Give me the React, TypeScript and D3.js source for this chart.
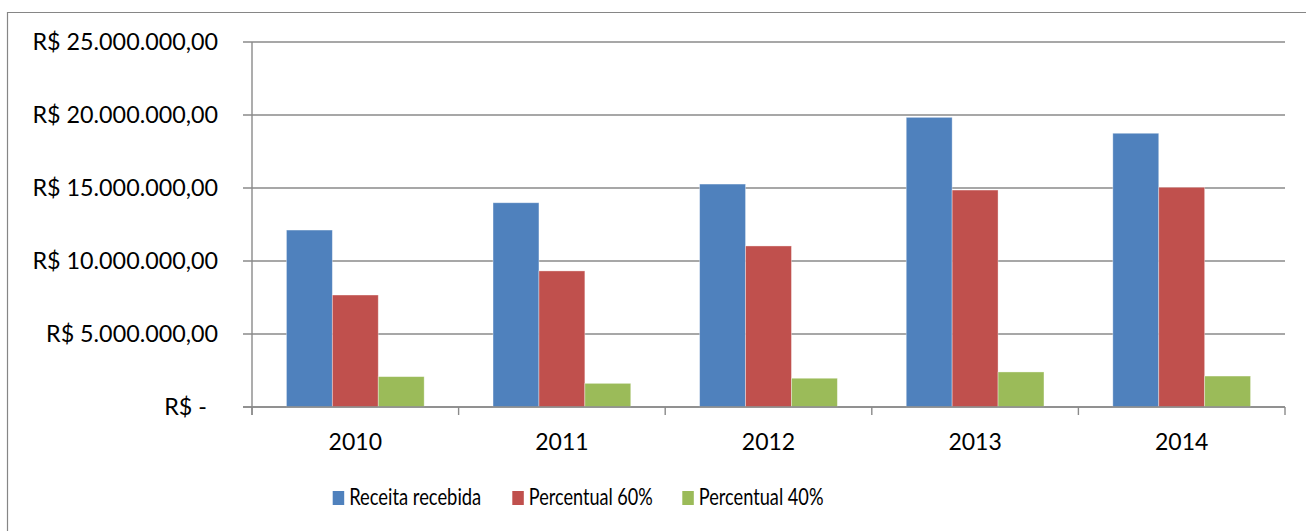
import React from "react";
import * as d3 from "d3";

const categories = ["2010", "2011", "2012", "2013", "2014"];
const seriesNames = ["Receita recebida", "Percentual 60%", "Percentual 40%"];
const receita = [12120000, 13990000, 15270000, 19840000, 18750000];
const percentual60 = [7670000, 9320000, 11030000, 14860000, 15050000];
const percentual40 = [2080000, 1620000, 1970000, 2400000, 2120000];
const yTicks = [0, 5000000, 10000000, 15000000, 20000000, 25000000];
const yTickLabels = [
  "R$ -",
  "R$ 5.000.000,00",
  "R$ 10.000.000,00",
  "R$ 15.000.000,00",
  "R$ 20.000.000,00",
  "R$ 25.000.000,00",
];
const colors = ["#4F81BD", "#C0504D", "#9BBB59"];

const W = 1306;
const H = 531;
const plotLeft = 252;
const plotRight = 1285;
const plotTop = 42;
const plotBottom = 407;
const FONT = "Lato, 'Open Sans', sans-serif";
const legendWidths = [132, 124, 124.7];
const legendX = [332.7, 512.3, 682.3];

export default function App() {
  const series = [receita, percentual60, percentual40];
  const x = d3
    .scaleBand<string>()
    .domain(categories)
    .range([plotLeft, plotRight])
    .paddingInner(1 / 3)
    .paddingOuter(1 / 6);
  const xStep = (plotRight - plotLeft) / categories.length;
  const xs = d3
    .scaleBand<string>()
    .domain(seriesNames)
    .range([0, x.bandwidth()])
    .padding(0);
  const y = d3.scaleLinear().domain([0, 25000000]).range([plotBottom, plotTop]);

  const gridColor = "#8a8a8a";

  return (
    <svg
      width={W}
      height={H}
      style={{ position: "absolute", left: 0, top: 0, background: "#fff" }}
    >
      <rect x={0} y={0} width={W} height={H} fill="#fff" />
      {/* outer border */}
      <path d={`M7.5,${H + 2} L7.5,12.5 L${W + 2},12.5`} fill="none" stroke="#868686" strokeWidth={1.2} />

      {/* gridlines and y tick marks */}
      {yTicks.map((t, i) => (
        <g key={"g" + i}>
          <line
            x1={plotLeft - 9}
            x2={plotRight}
            y1={y(t)}
            y2={y(t)}
            stroke={gridColor}
            strokeWidth={1.4}
          />
          <text
            x={t === 0 ? 207 : 218}
            y={y(t) + 8.3}
            textAnchor="end"
            fontFamily={FONT}
            fontSize={23.3}
            fill="#000"
          >
            {yTickLabels[i]}
          </text>
        </g>
      ))}

      {/* y axis */}
      <line x1={plotLeft} x2={plotLeft} y1={plotTop} y2={plotBottom + 8} stroke={gridColor} strokeWidth={1.4} />

      {/* x tick marks */}
      {d3.range(categories.length + 1).map((i) => (
        <line
          key={"xt" + i}
          x1={plotLeft + i * xStep}
          x2={plotLeft + i * xStep}
          y1={plotBottom}
          y2={plotBottom + 8}
          stroke={gridColor}
          strokeWidth={1.4}
        />
      ))}

      {/* bars */}
      {series.map((vals, si) =>
        vals.map((v, ci) => (
          <rect
            key={`b${si}-${ci}`}
            x={(x(categories[ci]) as number) + (xs(seriesNames[si]) as number)}
            y={y(v)}
            width={xs.bandwidth()}
            height={y(0) - y(v)}
            fill={colors[si]}
            stroke="rgba(255,255,255,0.45)"
            strokeWidth={0.8}
          />
        ))
      )}

      {/* x axis line */}
      <line x1={plotLeft - 9} x2={plotRight} y1={plotBottom} y2={plotBottom} stroke={gridColor} strokeWidth={1.4} />

      {/* x labels */}
      {categories.map((c) => (
        <text
          key={"xl" + c}
          x={(x(c) as number) + x.bandwidth() / 2}
          y={450}
          textAnchor="middle"
          fontFamily={FONT}
          fontSize={23}
          fill="#000"
        >
          {c}
        </text>
      ))}

      {/* legend */}
      {seriesNames.map((n, i) => (
        <g key={"lg" + i}>
          <rect x={legendX[i]} y={491} width={11.5} height={14} fill={colors[i]} />
          <text
            x={legendX[i] + 16.5}
            y={505}
            fontFamily={FONT}
            fontSize={23}
            fill="#000"
            textLength={legendWidths[i]}
            lengthAdjust="spacingAndGlyphs"
          >
            {n}
          </text>
        </g>
      ))}
    </svg>
  );
}
